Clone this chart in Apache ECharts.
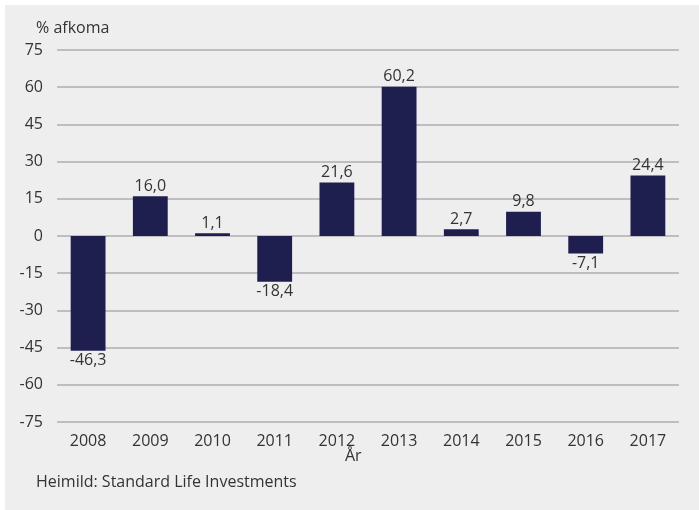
<!DOCTYPE html>
<html><head><meta charset="utf-8">
<script src="https://cdn.jsdelivr.net/npm/echarts@6/dist/echarts.min.js"></script>
<style>html,body{margin:0;padding:0;background:#fff;}#c{width:699px;height:510px;}</style>
</head><body><div id="c"></div>
<script>
const categories = ['2008','2009','2010','2011','2012','2013','2014','2015','2016','2017'];
const values = [-46.3, 16.0, 1.1, -18.4, 21.6, 60.2, 2.7, 9.8, -7.1, 24.4];
const yTicks = { min: -75, max: 75, interval: 15 };
const yTitle = '% afkoma';
const xTitle = 'År';
const source = 'Heimild: Standard Life Investments';

const font = '"Open Sans", "Noto Sans", sans-serif';
const txt = '#333333';
const fs = 16;
const chart = echarts.init(document.getElementById('c'), null, {renderer:'canvas'});
chart.setOption({
  animation:false,
  backgroundColor:'#ffffff',
  graphic:[
    {type:'rect', z:-10, shape:{x:5,y:5,width:694,height:505}, style:{fill:'#eeeeee'}},
    {type:'text', left:36, top:20, style:{text:yTitle, font:fs+'px '+font, fill:txt}},
    {type:'text', left:345, top:448, style:{text:xTitle, font:fs+'px '+font, fill:txt}},
    {type:'text', left:36, top:474, style:{text:source, font:fs+'px '+font, fill:txt}}
  ],
  grid:{left:57, right:20, top:50, bottom:88},
  xAxis:{
    type:'category', data:categories,
    axisLine:{show:false}, axisTick:{show:false},
    axisLabel:{color:txt, fontSize:fs, fontFamily:font, margin:11}
  },
  yAxis:{
    type:'value', min:yTicks.min, max:yTicks.max, interval:yTicks.interval,
    axisLine:{show:false}, axisTick:{show:false},
    axisLabel:{color:txt, fontSize:fs, fontFamily:font, margin:14},
    splitLine:{lineStyle:{color:'#b0adb3', width:1.5}}
  },
  series:[{
    type:'bar', barWidth:'56%',
    itemStyle:{color:'#1f1f4f'},
    data: values.map(v => ({value:v, label:{position: v<0?'bottom':'top'}})),
    label:{show:true, color:txt, fontSize:fs, fontFamily:font, distance:2,
      formatter:p => p.value.toFixed(1).replace('.',',')}
  }]
});
</script></body></html>
